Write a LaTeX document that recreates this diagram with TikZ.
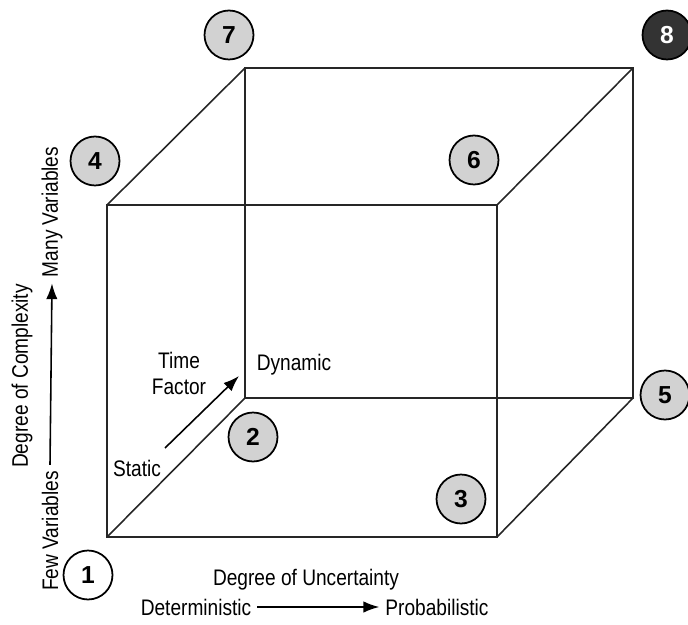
\documentclass[tikz,border=0pt]{standalone}
\usepackage{fontspec}
\setmainfont{Liberation Sans}
\newfontfamily\narrowsans[FakeStretch=0.85]{Liberation Sans}
\usetikzlibrary{arrows.meta, positioning}

\begin{document}
\begin{tikzpicture}[
    x=0.02cm, y=-0.02cm,
    >={Latex[length=9pt,width=6.5pt]},
    every text node part/.style={align=center},
    cubeedge/.style={line width=0.9pt, black!85},
    axisarrow/.style={->, line width=0.9pt},
    axislabel/.style={font=\narrowsans\fontsize{12.8}{14.8}\selectfont},
    octant/.style={circle, draw, line width=1pt, fill=gray!35, minimum size=0.98cm, inner sep=0pt, font=\fontsize{14}{14}\selectfont\bfseries},
    octantwhite/.style={octant, fill=white},
    octantdark/.style={octant, fill=black!80, text=white}
]
\useasboundingbox (0,0) rectangle (688,624);

% ==================== CUBE ====================
\coordinate (fbl) at (107,537);
\coordinate (fbr) at (497,537);
\coordinate (ftr) at (497,205);
\coordinate (ftl) at (107,205);
\coordinate (bbl) at (245,398);
\coordinate (bbr) at (633,398);
\coordinate (btr) at (633,68);
\coordinate (btl) at (245,68);

\draw[cubeedge] (fbl) -- (fbr) -- (ftr) -- (ftl) -- cycle;
\draw[cubeedge] (bbl) -- (bbr) -- (btr) -- (btl) -- cycle;
\draw[cubeedge] (fbl) -- (bbl);
\draw[cubeedge] (fbr) -- (bbr);
\draw[cubeedge] (ftr) -- (btr);
\draw[cubeedge] (ftl) -- (btl);

% ==================== OCTANT NUMBERS ====================
\node[octantwhite] (c1) at (88,575) {1};
\node[octant] (c2) at (253,437) {2};
\node[octant] (c3) at (461,499) {3};
\node[octant] (c4) at (95,161) {4};
\node[octant] (c5) at (665,395) {5};
\node[octant] (c6) at (474,160) {6};
\node[octant] (c7) at (229,35) {7};
\node[octantdark] (c8) at (667,35) {8};

% ==================== AXES ====================
% complexity (vertical)
\node[axislabel, rotate=90] (complexity) at (22,376) {Degree of Complexity};
\node[axislabel, rotate=90] (few) at (50,531) {Few Variables};
\node[axislabel, rotate=90] (many) at (52,212) {Many Variables};
\draw[axisarrow] (few.east) -- (many.west);

% uncertainty (horizontal)
\node[axislabel] (uncertainty) at (306,580) {Degree of Uncertainty};
\node[axislabel] (determ) at (196,607) {Deterministic};
\node[axislabel] (probab) at (437,607) {Probabilistic};
\draw[axisarrow] (determ.east) -- (probab.west);

% time factor (depth)
\node[axislabel] (timefactor) at (179,373) {Time\\Factor};
\node[axislabel] (dynamic) at (294,365) {Dynamic};
\node[axislabel] (static) at (137,468) {Static};
\coordinate (t0) at (165,448);
\coordinate (t1) at (239,376);
\draw[axisarrow] (t0) -- (t1);

\end{tikzpicture}
\end{document}
